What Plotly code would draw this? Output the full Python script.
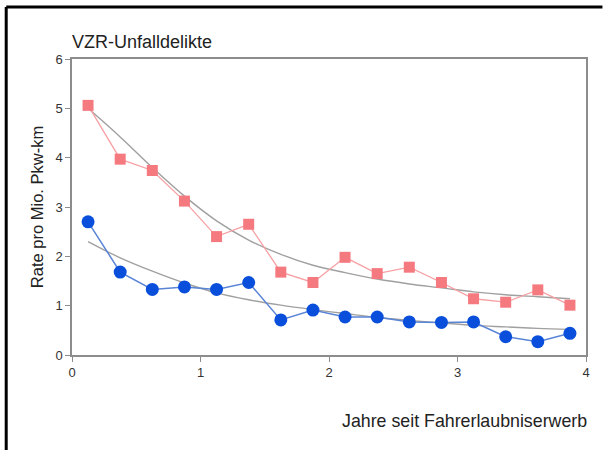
import plotly.graph_objects as go

years = [0.125, 0.375, 0.625, 0.875, 1.125, 1.375, 1.625, 1.875,
         2.125, 2.375, 2.625, 2.875, 3.125, 3.375, 3.625, 3.875]
red_rate = [5.06, 3.97, 3.74, 3.12, 2.40, 2.65, 1.68, 1.47,
            1.98, 1.65, 1.78, 1.47, 1.14, 1.07, 1.32, 1.01]
blue_rate = [2.70, 1.68, 1.33, 1.38, 1.33, 1.47, 0.71, 0.91,
             0.77, 0.77, 0.67, 0.66, 0.67, 0.37, 0.27, 0.44]
red_trend = [5.00, 4.42, 3.80, 3.22, 2.72, 2.33, 2.04, 1.82,
             1.67, 1.54, 1.44, 1.36, 1.28, 1.22, 1.18, 1.14]
blue_trend = [2.30, 1.97, 1.70, 1.46, 1.26, 1.12, 1.01, 0.92,
              0.84, 0.76, 0.70, 0.65, 0.60, 0.57, 0.54, 0.52]
x_ticks = [0, 1, 2, 3, 4]
y_ticks = [0, 1, 2, 3, 4, 5, 6]

FONT = "Liberation Sans, Arial"

fig = go.Figure()
fig.add_trace(go.Scatter(x=years, y=red_trend, mode="lines", line_shape="spline",
                         line=dict(color="#A0A0A0", width=1.4), hoverinfo="skip"))
fig.add_trace(go.Scatter(x=years, y=blue_trend, mode="lines", line_shape="spline",
                         line=dict(color="#A0A0A0", width=1.4), hoverinfo="skip"))
fig.add_trace(go.Scatter(x=years, y=red_rate, mode="lines+markers",
                         line=dict(color="#F7A0A4", width=1.3),
                         marker=dict(symbol="square", size=11, color="#F47A80")))
fig.add_trace(go.Scatter(x=years, y=blue_rate, mode="lines+markers",
                         line=dict(color="#5A84D6", width=1.5),
                         marker=dict(symbol="circle", size=13, color="#0A4FDC")))

axis_common = dict(showline=True, linecolor="#8C8C8C", linewidth=1.5, mirror=True,
                   showgrid=False, zeroline=False, ticks="outside", ticklen=5,
                   tickcolor="#8C8C8C", tickfont=dict(family=FONT, size=13, color="#333333"))
fig.update_xaxes(range=[0, 4], tickvals=x_ticks, **axis_common)
fig.update_yaxes(range=[0, 6], tickvals=y_ticks,
                 title=dict(text="Rate pro Mio. Pkw-km", standoff=8,
                            font=dict(family=FONT, size=16.5, color="#222222")),
                 **axis_common)

fig.update_layout(
    width=608, height=450,
    margin=dict(l=72, r=22, t=59, b=95),
    paper_bgcolor="white", plot_bgcolor="white",
    showlegend=False,
    annotations=[
        dict(text="VZR-Unfalldelikte", xref="paper", yref="paper", x=-0.004, y=1.0,
             yshift=17, xanchor="left", yanchor="middle", showarrow=False,
             font=dict(family=FONT, size=18, color="#222222")),
        dict(text="Jahre seit Fahrerlaubniserwerb", xref="paper", yref="paper", x=1.006, y=0,
             yshift=-66, xanchor="right", yanchor="middle", showarrow=False,
             font=dict(family=FONT, size=17.8, color="#222222")),
    ],
    shapes=[
        dict(type="line", xref="paper", yref="paper", x0=-0.128, x1=1.032, y0=1.176, y1=1.176,
             line=dict(color="black", width=3)),
        dict(type="line", xref="paper", yref="paper", x0=-0.128, x1=-0.128, y0=1.176, y1=-0.33,
             line=dict(color="black", width=3)),
    ],
)
fig.write_html("out.html")
